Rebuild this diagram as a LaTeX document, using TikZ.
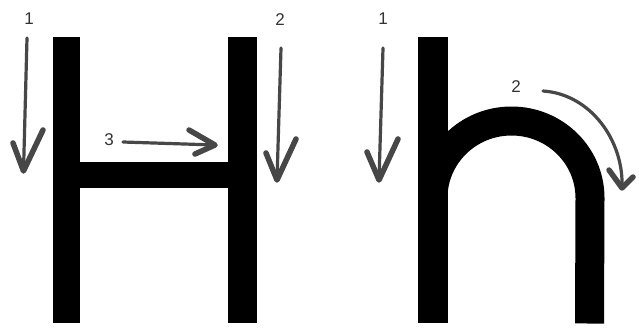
\documentclass[tikz,border=0pt]{standalone}
\usepackage{fontspec}
\setmainfont{Liberation Sans}
\begin{document}
\begin{tikzpicture}[x=1pt,y=-1pt,
  letter/.style={fill=black},
  stroke/.style={draw=arrowgray,line width=3.2pt,line cap=round},
  barb/.style={draw=arrowgray,line width=5.5pt,line cap=round,line join=round},
  num/.style={text=numgray,font=\fontsize{17}{17}\selectfont,inner sep=0pt}]
\definecolor{arrowgray}{HTML}{474747}
\definecolor{numgray}{HTML}{333333}
\useasboundingbox[fill=white] (0,0) rectangle (639,330);
% ---- H ----
\fill[letter] (53,37) rectangle (80,323);
\fill[letter] (228,37) rectangle (257,323);
\fill[letter] (79,162) rectangle (229,188);
% ---- h ----
\fill[letter] (418,37) rectangle (448,323);
\draw[line width=29pt] (433,198) arc[start angle=180,end angle=0,x radius=78.5pt,y radius=77pt] -- (589.5,323.5);
% ---- labels ----
\node[num] (n1) at (29,19) {1};
\node[num] (n2) at (280,20) {2};
\node[num] (n3) at (109,140) {3};
\node[num] (m1) at (383,19) {1};
\node[num] (m2) at (516,87) {2};
% ---- arrow 1 (H) ----
\coordinate (a1s) at (27,38);
\coordinate (a1t) at (23.5,171);
\draw[stroke] (a1s) -- (a1t);
\draw[barb] (13,143) -- (a1t) -- (43,130);
% ---- arrow 2 (H) ----
\coordinate (a2s) at (281,48);
\coordinate (a2t) at (277,180);
\draw[stroke] (a2s) -- (a2t);
\draw[barb] (266,153) -- (a2t) -- (296,139);
% ---- arrow 3 (H) ----
\coordinate (a3s) at (123,142);
\coordinate (a3t) at (215,145);
\draw[stroke] (a3s) -- (a3t);
\draw[barb] (189,130) -- (a3t) -- (195,154);
% ---- arrow 1 (h) ----
\coordinate (b1s) at (383,48);
\coordinate (b1t) at (379,180);
\draw[stroke] (b1s) -- (b1t);
\draw[barb] (367,152) -- (b1t) -- (398,139);
% ---- arrow 2 (h) ----
\coordinate (b2s) at (543,91);
\coordinate (b2t) at (622,188);
\draw[stroke] (b2s) .. controls (590,94) and (624,140) .. (b2t);
\draw[barb] (609,170) -- (b2t) -- (633,177);
\end{tikzpicture}
\end{document}
